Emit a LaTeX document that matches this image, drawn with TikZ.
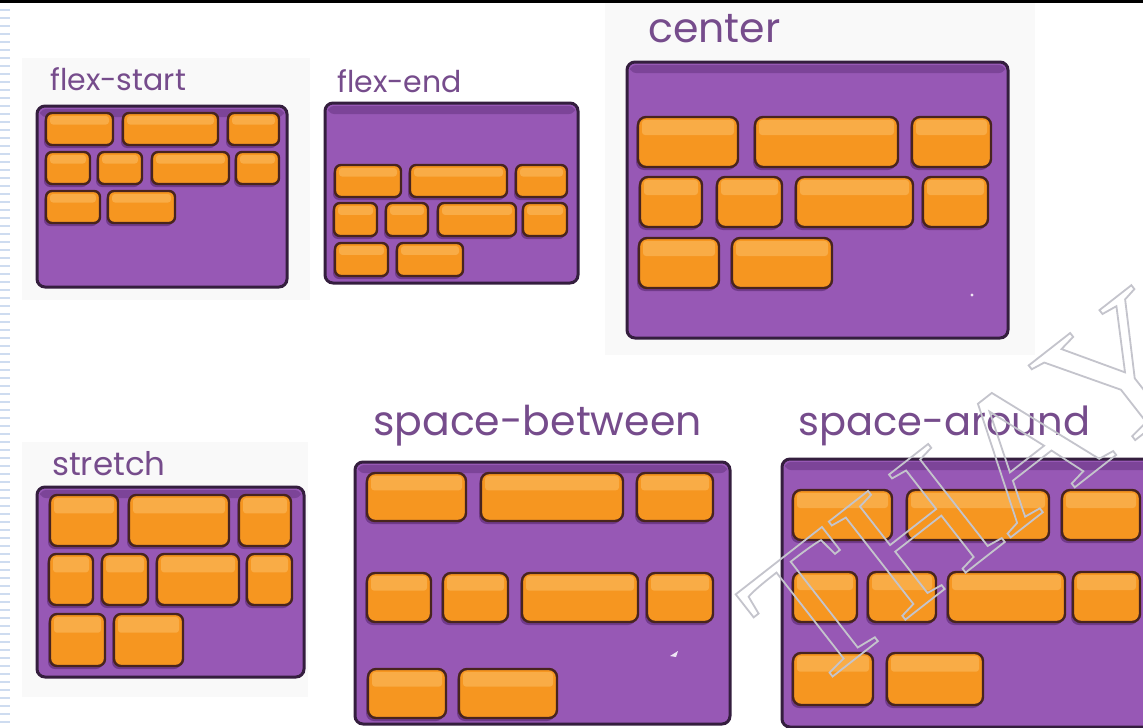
\documentclass[tikz,border=0pt]{standalone}
\usepackage{fontspec}
\setmainfont{Poppins}
\newfontfamily\wmfont{Liberation Serif}
\definecolor{pfill}{RGB}{151,88,181}
\definecolor{pband}{RGB}{124,68,152}
\definecolor{pline}{RGB}{52,30,62}
\definecolor{ofill}{RGB}{246,150,32}
\definecolor{ohi}{RGB}{249,172,70}
\definecolor{oline}{RGB}{72,36,30}
\definecolor{pshad}{RGB}{112,58,138}
\definecolor{lblc}{RGB}{118,76,140}
\definecolor{rulerc}{RGB}{206,220,240}
\definecolor{wmc}{RGB}{196,196,204}
\definecolor{panelc}{RGB}{249,249,249}
\tikzset{
  boxfill/.style={fill=pfill, rounded corners=8},
  boxline/.style={draw=pline, line width=3, rounded corners=8},
  blkfill/.style={fill=ofill},
  blkline/.style={draw=oline, line width=2.4},
  lbl/.style={inner sep=0, anchor=base west, text=lblc},
  small/.style={font=\fontsize{30}{30}\selectfont},
  big/.style={font=\fontsize{41}{41}\selectfont},
}
% purple container: x1 y1 x2 y2
\newcommand\pbox[4]{%
  \fill[boxfill] (#1,#2) rectangle (#3,#4);
  \fill[pband, rounded corners=6] ({#1+3},{#2+3}) rectangle ({#3-3},{#2+11});
  \draw[boxline] (#1,#2) rectangle (#3,#4);}
% orange block: x1 y1 x2 y2 radius
\newcommand\blk[5]{%
  \fill[pshad, rounded corners=#5, shift={(-2,3)}] (#1,#2) rectangle (#3,#4);
  \fill[blkfill, rounded corners=#5] (#1,#2) rectangle (#3,#4);
  \fill[ohi, rounded corners=3] ({#1+4},{#2+3}) rectangle ({#3-4},{#2+0.36*(#4-#2)});
  \draw[blkline, rounded corners=#5] (#1,#2) rectangle (#3,#4);}
\begin{document}
\begin{tikzpicture}[x=1pt,y=-1pt]
\useasboundingbox (0,0) rectangle (1143,728);
\clip (0,0) rectangle (1143,728);
\fill[white] (0,0) rectangle (1143,728);
% faint panels
\fill[panelc] (22,58) rectangle (310,300);
\fill[panelc] (605,0) rectangle (1035,355);
\fill[panelc] (22,442) rectangle (308,697);
% top rule and left ruler
\fill[black] (0,0) rectangle (1143,3);
\foreach \yy in {10,18,...,728} \draw[rulerc, line width=1.6] (0,\yy) -- (10,\yy);

% ---- flex-start
\node[lbl, small] (lfs) at (50,90) {flex-start};
\pbox{37}{106}{287}{287}
\blk{46}{113}{113}{145}{6}\blk{123}{113}{218}{145}{6}\blk{228}{113}{279}{145}{6}
\blk{46}{152}{90}{184}{6}\blk{98}{152}{142}{184}{6}\blk{152}{152}{229}{184}{6}\blk{236}{152}{279}{184}{6}
\blk{46}{191}{100}{223}{6}\blk{108}{191}{175}{223}{6}

% ---- flex-end
\node[lbl, small] (lfe) at (337,92) {flex-end};
\pbox{325}{103}{578}{283}
\blk{335}{165}{401}{197}{6}\blk{410}{165}{507}{197}{6}\blk{516}{165}{567}{197}{6}
\blk{334}{203}{377}{236}{6}\blk{386}{203}{428}{236}{6}\blk{438}{203}{516}{236}{6}\blk{523}{203}{567}{236}{6}
\blk{335}{243}{388}{276}{6}\blk{397}{243}{463}{276}{6}

% ---- center
\node[lbl, big] (lc) at (648,42) {center};
\pbox{627}{62}{1008}{338}
\blk{638}{117}{738}{167}{8}\blk{755}{117}{898}{167}{8}\blk{912}{117}{991}{167}{8}
\blk{640}{177}{702}{227}{8}\blk{717}{177}{782}{227}{8}\blk{796}{177}{913}{227}{8}\blk{923}{177}{988}{227}{8}
\blk{639}{238}{719}{288}{8}\blk{732}{238}{832}{288}{8}
\fill[white!85!pfill] (972,295) circle (1.6);

% ---- stretch
\node[lbl, font=\fontsize{32.5}{32.5}\selectfont] (ls) at (52,475) {stretch};
\pbox{37}{487}{304}{677}
\blk{50}{495}{118}{546}{7}\blk{129}{495}{229}{546}{7}\blk{239}{495}{291}{546}{7}
\blk{49}{554}{93}{605}{7}\blk{102}{554}{148}{605}{7}\blk{157}{554}{239}{605}{7}\blk{247}{554}{292}{605}{7}
\blk{50}{614}{105}{666}{7}\blk{114}{614}{183}{666}{7}

% ---- space-between
\node[lbl, big] (lsb) at (373,435) {space-between};
\pbox{355}{462}{730}{724}
\blk{367}{473}{466}{521}{8}\blk{481}{473}{623}{521}{8}\blk{637}{473}{713}{521}{8}
\blk{367}{573}{431}{622}{8}\blk{443}{573}{508}{622}{8}\blk{522}{573}{638}{622}{8}\blk{647}{573}{713}{622}{8}
\blk{368}{669}{446}{718}{8}\blk{459}{669}{557}{718}{8}
\fill[white!85!pfill] (670,656) -- (678,651) -- (676,657) -- cycle;

% ---- space-around
\node[lbl, font=\fontsize{40}{40}\selectfont] (lsa) at (798,435) {space-around};
\pbox{782}{459}{1165}{727}
\blk{793}{490}{892}{540}{8}\blk{907}{490}{1049}{540}{8}\blk{1062}{490}{1140}{540}{8}
\blk{793}{572}{857}{622}{8}\blk{868}{572}{936}{622}{8}\blk{948}{572}{1065}{622}{8}\blk{1073}{572}{1140}{622}{8}
\blk{793}{653}{873}{705}{8}\blk{887}{653}{983}{705}{8}

% ---- watermark
\node[inner sep=0, rotate=38, text=wmc,
  font=\wmfont\fontsize{190}{190}\selectfont] (wm) at (972,488)
  {\special{pdf:literal direct 1 Tr 1.8 w}THAY\special{pdf:literal direct 0 Tr}};
\end{tikzpicture}
\end{document}
